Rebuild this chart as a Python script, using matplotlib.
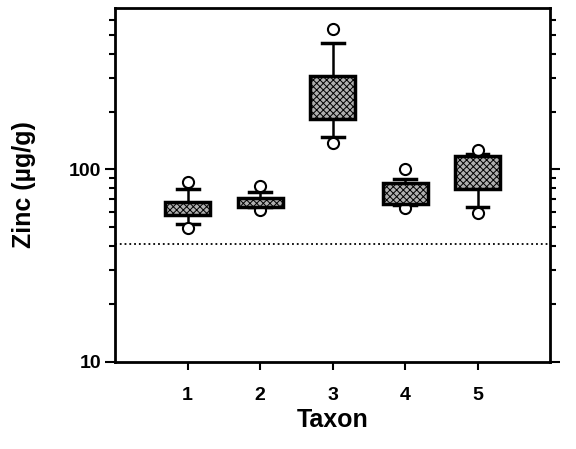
import matplotlib.pyplot as plt
from matplotlib.ticker import LogLocator, NullFormatter, FixedLocator, FixedFormatter

plt.rcParams['font.family'] = ['Liberation Sans', 'DejaVu Sans']
plt.rcParams['font.weight'] = 'bold'
plt.rcParams['hatch.linewidth'] = 0.7

taxa = [1, 2, 3, 4, 5]
q1 = [57.8, 63.9, 182, 66.1, 78.7]
med = [62.2, 66.5, 260, 69.8, 91.5]
q3 = [67.9, 71.5, 305, 84.6, 117]
whislo = [52, 63.6, 148, 65.2, 63.9]
whishi = [79.6, 76.6, 455, 89.1, 121]
flier_lo = [49.6, 61.4, 137.5, 62.7, 59.1]
flier_hi = [85.9, 82.2, 534, 100, 127]
threshold = 41

stats = []
for i in range(len(taxa)):
    stats.append(dict(med=med[i], q1=q1[i], q3=q3[i], whislo=whislo[i],
                      whishi=whishi[i], fliers=[flier_lo[i], flier_hi[i]]))

fig = plt.figure(figsize=(5.76, 4.49), dpi=100)
ax = fig.add_axes([0.2, 0.194, 0.755, 0.788])

bp = ax.bxp(stats, positions=taxa, widths=0.62, patch_artist=True,
            boxprops=dict(facecolor='#b0b0b0', edgecolor='black', linewidth=2.5, hatch='xxxxx'),
            whiskerprops=dict(color='black', linewidth=1.8),
            capprops=dict(color='black', linewidth=2.5),
            capwidths=0.3,
            medianprops=dict(color='white', linewidth=1.5, linestyle=':'),
            flierprops=dict(marker='o', markerfacecolor='white', markeredgecolor='black',
                            markersize=8, markeredgewidth=1.5))
for b in bp['boxes']:
    b.set_zorder(3)

ax.axhline(threshold, color='black', linestyle=':', linewidth=1.3)

ax.set_yscale('log')
ax.set_ylim(10, 690)
ax.set_xlim(0, 6)

ax.yaxis.set_major_locator(FixedLocator([10, 100]))
ax.yaxis.set_major_formatter(FixedFormatter(['10', '100']))
ax.yaxis.set_minor_locator(LogLocator(base=10, subs=range(2, 10)))
ax.yaxis.set_minor_formatter(NullFormatter())
ax.tick_params(axis='y', which='both', direction='out', left=True, right=True,
               labelsize=14, width=1.5, pad=3)
ax.tick_params(axis='y', which='major', length=7)
ax.tick_params(axis='y', which='minor', length=4)

ax.set_xticks(taxa)
ax.set_xticklabels([str(t) for t in taxa])
ax.tick_params(axis='x', direction='out', length=6, width=1.5, labelsize=14, pad=12, top=False)

for s in ax.spines.values():
    s.set_linewidth(2)

ax.set_xlabel('Taxon', fontsize=18, fontweight='bold', labelpad=3)
ax.set_ylabel('Zinc (µg/g)', fontsize=18, fontweight='bold', labelpad=24)

fig.savefig('out.png', dpi=100)
